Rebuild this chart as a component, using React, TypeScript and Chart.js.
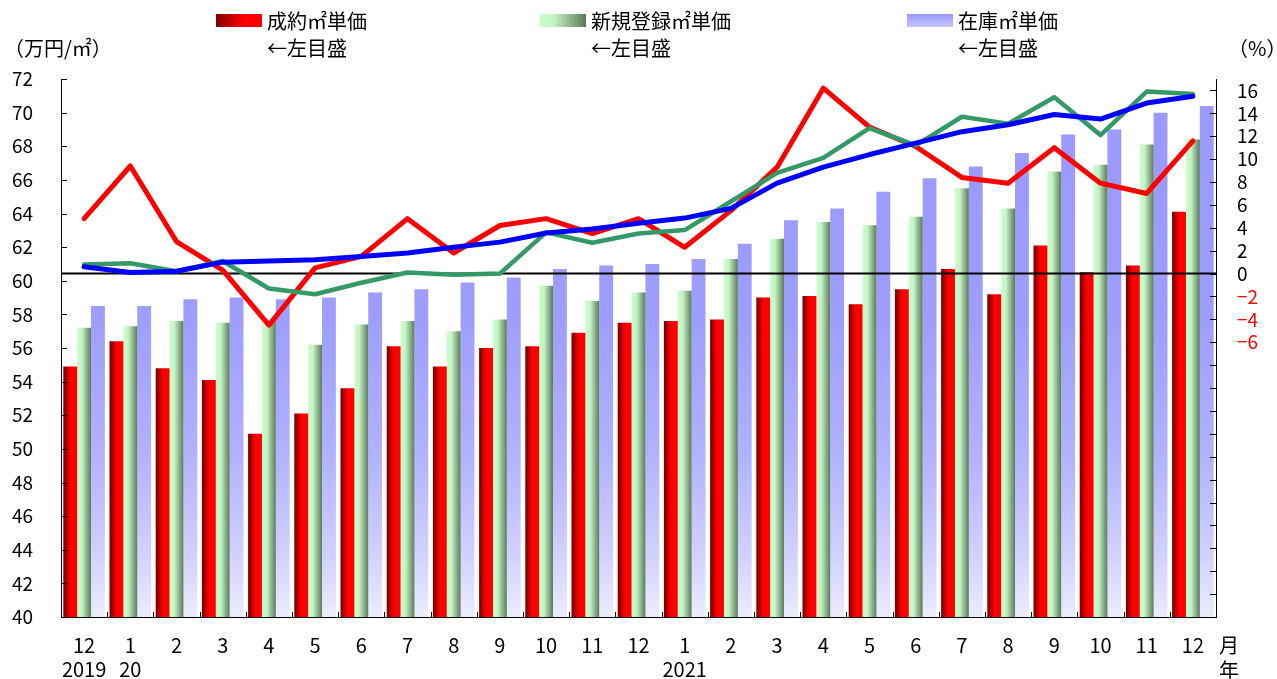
import React, { useEffect, useRef } from 'react';
import { Chart, registerables } from 'chart.js';

Chart.register(...registerables);

const FONT = '"Noto Sans CJK JP", "Noto Sans", sans-serif';

// ---- data ----
const monthLabels = ['12', '1', '2', '3', '4', '5', '6', '7', '8', '9', '10', '11', '12', '1', '2', '3', '4', '5', '6', '7', '8', '9', '10', '11', '12'];
const yearLabels = ['2019', '20', '', '', '', '', '', '', '', '', '', '', '', '2021', '', '', '', '', '', '', '', '', '', '', ''];

// 万円/㎡ (left axis)
const contractPrice = [54.9, 56.4, 54.8, 54.1, 50.9, 52.1, 53.6, 56.1, 54.9, 56.0, 56.1, 56.9, 57.5, 57.6, 57.7, 59.0, 59.1, 58.6, 59.5, 60.7, 59.2, 62.1, 60.5, 60.9, 64.1];
const newListingPrice = [57.2, 57.3, 57.6, 57.5, 57.6, 56.2, 57.4, 57.6, 57.0, 57.7, 59.7, 58.8, 59.3, 59.4, 61.3, 62.5, 63.5, 63.3, 63.8, 65.5, 64.3, 66.5, 66.9, 68.1, 68.4];
const stockPrice = [58.5, 58.5, 58.9, 59.0, 58.9, 59.0, 59.3, 59.5, 59.9, 60.2, 60.7, 60.9, 61.0, 61.3, 62.2, 63.6, 64.3, 65.3, 66.1, 66.8, 67.6, 68.7, 69.0, 70.0, 70.4];

// % (right axis)
const contractYoY = [4.8, 9.4, 2.8, 0.3, -4.5, 0.5, 1.5, 4.8, 1.8, 4.2, 4.8, 3.5, 4.8, 2.3, 5.5, 9.3, 16.2, 12.8, 11.1, 8.4, 7.9, 11.0, 7.9, 7.0, 11.6];
const newListingYoY = [0.8, 0.9, 0.2, 1.1, -1.3, -1.8, -0.8, 0.1, -0.1, 0.0, 3.6, 2.7, 3.5, 3.8, 6.3, 8.8, 10.1, 12.7, 11.2, 13.7, 13.1, 15.4, 12.1, 15.9, 15.7];
const stockYoY = [0.6, 0.1, 0.2, 1.0, 1.1, 1.2, 1.5, 1.8, 2.3, 2.75, 3.55, 3.9, 4.4, 4.85, 5.7, 7.9, 9.3, 10.4, 11.4, 12.4, 13.0, 13.9, 13.5, 14.9, 15.5];

const seriesNames = ['成約㎡単価', '新規登録㎡単価', '在庫㎡単価'];
const seriesNote = '←左目盛';

const LEFT_MIN = 40;
const LEFT_MAX = 72;
const RIGHT_MIN = -30;
const RIGHT_MAX = 17;
const STEP = 2;
const RIGHT_LABEL_MIN = -6;
const RIGHT_LABEL_MAX = 16;

const CAT_PCT = 0.9;

const categories = monthLabels.map((m, i) => (yearLabels[i] ? [m, yearLabels[i]] : m));

function redGrad(c: CanvasRenderingContext2D, x0: number, x1: number) {
  const g = c.createLinearGradient(x0, 0, x1, 0);
  g.addColorStop(0, '#6e0000');
  g.addColorStop(0.5, '#ff0000');
  g.addColorStop(1, '#ff0000');
  return g;
}
function greenGrad(c: CanvasRenderingContext2D, x0: number, x1: number) {
  const g = c.createLinearGradient(x0, 0, x1, 0);
  g.addColorStop(0, '#ccffcc');
  g.addColorStop(0.35, '#c4f4c4');
  g.addColorStop(1, '#5c7a5c');
  return g;
}
function blueGrad(c: CanvasRenderingContext2D, y0: number, y1: number) {
  const g = c.createLinearGradient(0, y0, 0, y1);
  g.addColorStop(0, '#9999ff');
  g.addColorStop(0.45, '#9e9eff');
  g.addColorStop(0.7, '#b2b2ff');
  g.addColorStop(0.88, '#d0d0ff');
  g.addColorStop(1, '#ececff');
  return g;
}

function barFill(slot: number, fallback: string) {
  return (ctx: any) => {
    const chart = ctx.chart;
    const area = chart.chartArea;
    const xs = chart.scales && chart.scales.x;
    if (!area || !xs || ctx.type !== 'data') return fallback;
    const c = chart.ctx as CanvasRenderingContext2D;
    if (slot === 2) return blueGrad(c, area.top, area.bottom);
    const center = xs.getPixelForValue(ctx.dataIndex);
    const catW = (xs.right - xs.left) / categories.length;
    const bw = (catW * CAT_PCT) / 3;
    const left = center - (catW * CAT_PCT) / 2 + bw * slot;
    return slot === 0 ? redGrad(c, left, left + bw) : greenGrad(c, left, left + bw);
  };
}

const decorPlugin = {
  id: 'decor',
  beforeDatasetDraw(chart: any, args: any) {
    if (args.index !== 3) return;
    const c = chart.ctx as CanvasRenderingContext2D;
    const { left, right } = chart.chartArea;
    const y = chart.scales.y1.getPixelForValue(0);
    c.save();
    c.strokeStyle = '#000';
    c.lineWidth = 2;
    c.beginPath();
    c.moveTo(left, y);
    c.lineTo(right, y);
    c.stroke();
    c.restore();
  },
  afterDraw(chart: any) {
    const c = chart.ctx as CanvasRenderingContext2D;
    const { left, right, bottom } = chart.chartArea;
    const ys = chart.scales.y;
    const y1 = chart.scales.y1;
    c.save();
    c.strokeStyle = '#000';
    c.lineWidth = 1;
    c.beginPath();
    for (let v = LEFT_MIN; v <= LEFT_MAX; v += STEP) {
      const py = Math.round(ys.getPixelForValue(v)) + 0.5;
      c.moveTo(left, py);
      c.lineTo(left + 6, py);
    }
    for (let v = RIGHT_MIN; v <= RIGHT_LABEL_MAX; v += STEP) {
      const py = Math.round(y1.getPixelForValue(v)) + 0.5;
      c.moveTo(right - 6, py);
      c.lineTo(right, py);
    }
    const n = categories.length;
    for (let i = 1; i < n; i++) {
      const px = Math.round(left + (i * (right - left)) / n) + 0.5;
      c.moveTo(px, bottom);
      c.lineTo(px, bottom - 5);
    }
    c.stroke();

    // legend
    const legendX = [216, 540, 907];
    c.font = `20px ${FONT}`;
    c.textBaseline = 'middle';
    c.textAlign = 'left';
    legendX.forEach((x, i) => {
      const w = 46;
      const sy = 14;
      const sh = 13;
      let fill: any;
      if (i === 0) {
        const g = c.createLinearGradient(x, 0, x + w, 0);
        g.addColorStop(0, '#800000');
        g.addColorStop(0.6, '#ff0000');
        g.addColorStop(1, '#ff0000');
        fill = g;
      } else if (i === 1) {
        const g = c.createLinearGradient(x, 0, x + w, 0);
        g.addColorStop(0, '#ccffcc');
        g.addColorStop(0.3, '#c4f4c4');
        g.addColorStop(1, '#5c7a5c');
        fill = g;
      } else {
        const g = c.createLinearGradient(0, sy, 0, sy + sh);
        g.addColorStop(0, '#9999ff');
        g.addColorStop(1, '#c4c4ff');
        fill = g;
      }
      c.fillStyle = fill;
      c.fillRect(x, sy, w, sh);
      c.fillStyle = '#000';
      c.fillText(seriesNames[i], x + 51, 21);
      c.fillText(seriesNote, x + 51, 48);
    });
    c.fillText('（万円/㎡）', 4, 48);
    c.fillText('（%）', 1228, 48);
    c.textAlign = 'center';
    c.fillText('月', 1229, 645);
    c.fillText('年', 1229, 670);
    c.restore();
  },
};

export default function App() {
  const ref = useRef<HTMLCanvasElement | null>(null);
  useEffect(() => {
    document.body.style.margin = '0';
    if (!ref.current) return;
    const chart = new Chart(ref.current, {
      type: 'bar',
      data: {
        labels: categories as any,
        datasets: [
          { type: 'bar', label: seriesNames[0], data: contractPrice, yAxisID: 'y', order: 10, backgroundColor: barFill(0, '#ff0000'), borderWidth: 0, barPercentage: 1, categoryPercentage: CAT_PCT },
          { type: 'bar', label: seriesNames[1], data: newListingPrice, yAxisID: 'y', order: 11, backgroundColor: barFill(1, '#aaddaa'), borderWidth: 0, barPercentage: 1, categoryPercentage: CAT_PCT },
          { type: 'bar', label: seriesNames[2], data: stockPrice, yAxisID: 'y', order: 12, backgroundColor: barFill(2, '#9999ff'), borderWidth: 0, barPercentage: 1, categoryPercentage: CAT_PCT },
          { type: 'line', label: '成約前年比', data: contractYoY, yAxisID: 'y1', order: 3, borderColor: '#ff0000', borderWidth: 5, pointRadius: 0, tension: 0, fill: false, borderCapStyle: 'round', borderJoinStyle: 'round' },
          { type: 'line', label: '新規登録前年比', data: newListingYoY, yAxisID: 'y1', order: 2, borderColor: '#339966', borderWidth: 4.5, pointRadius: 0, tension: 0, fill: false, borderCapStyle: 'round', borderJoinStyle: 'round' },
          { type: 'line', label: '在庫前年比', data: stockYoY, yAxisID: 'y1', order: 1, borderColor: '#0000ff', borderWidth: 5, pointRadius: 0, tension: 0, fill: false, borderCapStyle: 'round', borderJoinStyle: 'round' },
        ] as any,
      },
      options: {
        responsive: false,
        animation: false,
        layout: { padding: { top: 79, left: 0, right: 0, bottom: 0 } },
        plugins: { legend: { display: false }, tooltip: { enabled: false } },
        scales: {
          x: {
            offset: true,
            grid: { display: false, drawTicks: false },
            border: { display: true, color: '#000', width: 1 },
            ticks: { autoSkip: false, maxRotation: 0, minRotation: 0, padding: 16, color: '#000', font: { family: FONT, size: 20, lineHeight: 1.2 } },
            afterFit: (s: any) => { s.height = 62; },
          },
          y: {
            position: 'left',
            min: LEFT_MIN,
            max: LEFT_MAX,
            grid: { display: false, drawTicks: false },
            border: { display: true, color: '#000', width: 1 },
            ticks: { stepSize: STEP, autoSkip: false, padding: 28, color: '#000', font: { family: FONT, size: 19 } },
            afterFit: (s: any) => { s.width = 61; },
          },
          y1: {
            position: 'right',
            min: RIGHT_MIN,
            max: RIGHT_MAX,
            grid: { display: false, drawTicks: false },
            border: { display: true, color: '#000', width: 1 },
            ticks: {
              stepSize: STEP,
              autoSkip: false,
              includeBounds: false,
              padding: 21,
              font: { family: FONT, size: 19 },
              color: (c: any) => (c.tick && c.tick.value < 0 ? '#ff0000' : '#000'),
              callback: (v: any) => {
                const n = Number(v);
                if (n < RIGHT_LABEL_MIN || n > RIGHT_LABEL_MAX) return '';
                return n < 0 ? '\u2212' + Math.abs(n) : String(n);
              },
            },
            afterFit: (s: any) => { s.width = 61; },
          },
        },
      } as any,
      plugins: [decorPlugin],
    });
    return () => chart.destroy();
  }, []);
  return <canvas ref={ref} width={1277} height={679} style={{ display: 'block' }} />;
}
